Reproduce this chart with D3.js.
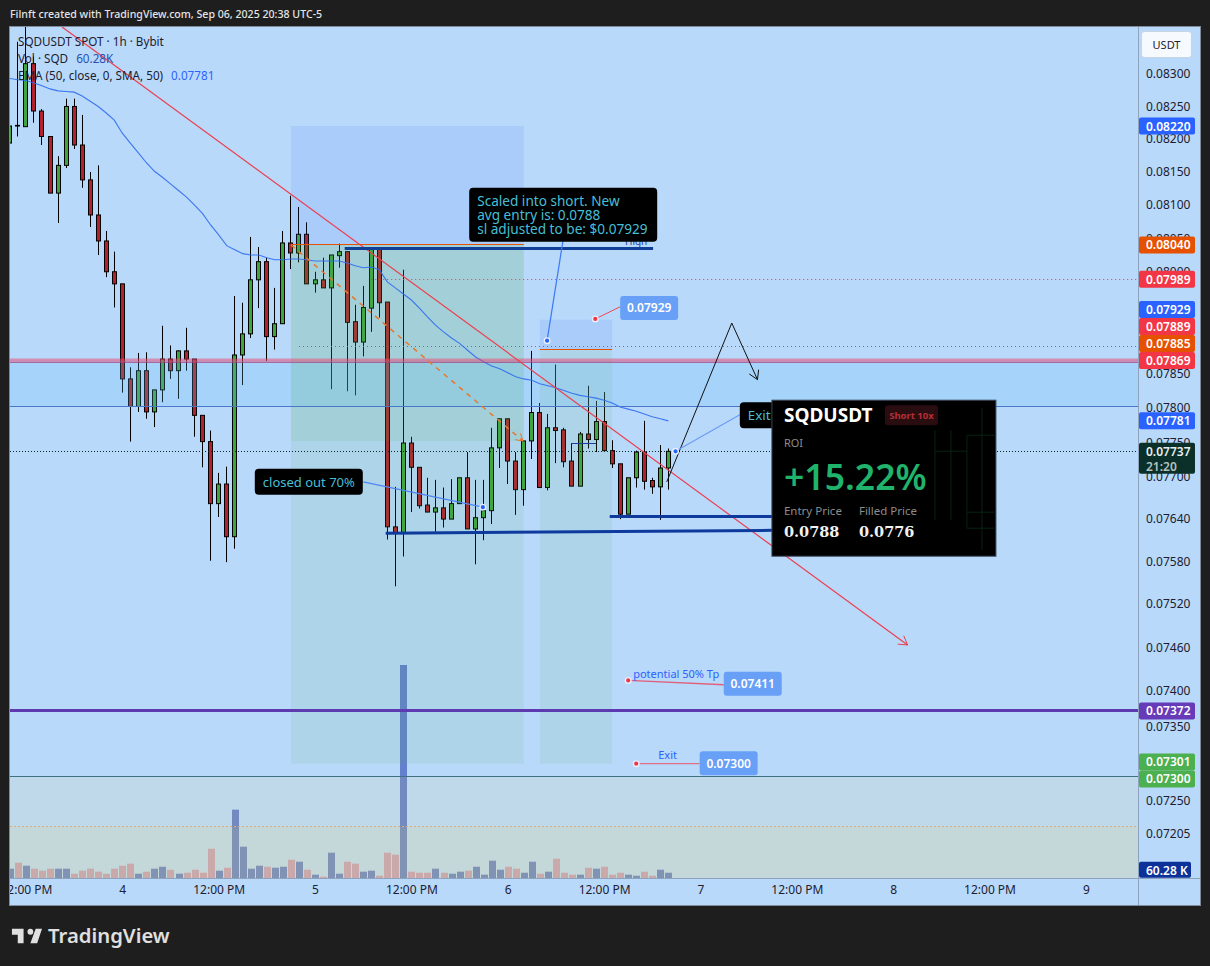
<!DOCTYPE html>
<html>
<head>
<meta charset="utf-8">
<title>SQDUSDT</title>
<script src="https://cdn.jsdelivr.net/npm/d3@7"></script>
<style>
    html, body { margin: 0; padding: 0; background: #1e1e1e; }
    text { font-family: "Noto Sans", sans-serif; }
</style>
</head>
<body>
<div id="chart"></div>
<script>
// Candles: one per hour, hour 0 = Sep 4 00:00
const firstHour = -14
const opens = [0.08194,0.08221,0.08219,0.08316,0.08243,0.08204,0.08118,0.08160,0.08250,0.08191,0.08138,0.08085,0.08046,0.08000,
    0.07982,0.07842,0.07802,0.07854,0.07794,0.07826,0.07871,0.07854,0.07883,0.07871,0.07789,0.07751,0.07662,0.07690,0.07615,0.07877,
    0.07908,0.07988,0.08015,0.07904,0.07923,0.08043,0.08028,0.08056,0.07982,0.07988,0.07976,0.08024,0.08030,0.07926,0.07896,0.07946,
    0.08036,0.07955,0.07629,0.07621,0.07749,0.07714,0.07660,0.07650,0.07656,0.07640,0.07662,0.07699,0.07626,0.07642,0.07652,0.07742,
    0.07784,0.07723,0.07682,0.07752,0.07793,0.07685,0.07771,0.07768,0.07723,0.07687,0.07762,0.07754,0.07780,0.07738,0.07719,0.07647,
    0.07699,0.07736,0.07695,0.07686,0.07713]
const highs = [0.08231,0.08350,0.08373,0.08327,0.08246,0.08204,0.08174,0.08262,0.08262,0.08237,0.08150,0.08160,0.08061,0.08030,
    0.07982,0.07859,0.07880,0.07881,0.07826,0.07920,0.07891,0.07884,0.07917,0.07871,0.07789,0.07767,0.07706,0.07715,0.07964,0.07954,
    0.08052,0.08037,0.08021,0.07976,0.08061,0.08114,0.08097,0.08074,0.08000,0.08021,0.08025,0.08042,0.08030,0.07951,0.07979,0.08036,
    0.08036,0.07955,0.07686,0.08003,0.07758,0.07714,0.07699,0.07696,0.07685,0.07697,0.07699,0.07736,0.07696,0.07696,0.07771,0.07784,
    0.07784,0.07736,0.07752,0.07883,0.07807,0.07791,0.07863,0.07771,0.07749,0.07765,0.07832,0.07810,0.07823,0.07753,0.07719,0.07699,
    0.07738,0.07781,0.07699,0.07746,0.07741]
const lows = [0.08146,0.08204,0.08219,0.08225,0.08191,0.08118,0.08073,0.08156,0.08185,0.08126,0.08067,0.08025,0.07992,0.07947,
    0.07822,0.07751,0.07794,0.07784,0.07772,0.07808,0.07842,0.07813,0.07854,0.07758,0.07714,0.07581,0.07643,0.07579,0.07598,0.07833,
    0.07902,0.07946,0.07868,0.07885,0.07923,0.08004,0.08014,0.07982,0.07969,0.07976,0.07827,0.08006,0.07824,0.07818,0.07875,0.07911,
    0.07932,0.07611,0.07545,0.07587,0.07650,0.07655,0.07650,0.07622,0.07628,0.07640,0.07662,0.07626,0.07576,0.07610,0.07633,0.07713,
    0.07690,0.07646,0.07659,0.07726,0.07685,0.07681,0.07720,0.07714,0.07687,0.07687,0.07741,0.07736,0.07738,0.07713,0.07640,0.07647,
    0.07685,0.07682,0.07676,0.07639,0.07682]
const closes = [0.08220,0.08220,0.08316,0.08243,0.08204,0.08118,0.08160,0.08250,0.08191,0.08138,0.08085,0.08046,0.08000,0.07982,
    0.07842,0.07802,0.07854,0.07794,0.07826,0.07871,0.07854,0.07883,0.07871,0.07789,0.07751,0.07662,0.07690,0.07615,0.07877,0.07908,
    0.07988,0.08015,0.07904,0.07923,0.08043,0.08028,0.08056,0.07982,0.07988,0.07976,0.08025,0.08030,0.07925,0.07896,0.07947,0.08036,
    0.07954,0.07629,0.07621,0.07749,0.07714,0.07659,0.07650,0.07656,0.07640,0.07662,0.07699,0.07626,0.07642,0.07652,0.07742,0.07784,
    0.07723,0.07682,0.07752,0.07793,0.07685,0.07771,0.07767,0.07722,0.07687,0.07762,0.07754,0.07780,0.07738,0.07719,0.07647,0.07699,
    0.07736,0.07694,0.07686,0.07713,0.07737]
// Volume, thousands of SQD
const volumes = [106,174,140,106,83,106,106,106,49,83,106,72,49,106,
    140,163,49,72,106,128,94,49,60,94,60,333,83,117,777,356,
    106,140,128,117,128,208,185,94,38,15,288,49,185,163,72,83,
    26,288,265,2422,72,60,60,106,60,49,72,83,128,38,197,94,
    128,106,60,185,49,72,219,60,38,38,117,106,128,38,60,38,
    26,72,26,94,60]
const ema = [0.08293,0.08291,0.08290,0.08286,0.08282,0.08277,0.08274,0.08273,0.08272,0.08266,0.08258,0.08250,0.08240,0.08229,
    0.08209,0.08194,0.08179,0.08164,0.08151,0.08142,0.08132,0.08122,0.08112,0.08100,0.08087,0.08070,0.08055,0.08039,0.08033,0.08027,
    0.08025,0.08025,0.08021,0.08018,0.08018,0.08019,0.08019,0.08018,0.08016,0.08016,0.08016,0.08016,0.08013,0.08009,0.08006,0.08007,
    0.08003,0.07985,0.07976,0.07967,0.07958,0.07946,0.07933,0.07921,0.07911,0.07902,0.07894,0.07884,0.07874,0.07867,0.07861,0.07857,
    0.07851,0.07845,0.07842,0.07840,0.07835,0.07832,0.07829,0.07825,0.07821,0.07818,0.07816,0.07814,0.07811,0.07807,0.07801,0.07798,
    0.07795,0.07791,0.07787,0.07784,0.07781]

// Axis ticks
const priceTicks = [0.083,0.0825,0.082,0.0815,0.081,0.0805,0.08,0.0795,0.0785,0.078,0.0775,0.077,0.0764,0.0758,0.0752,0.0746,0.074,0.0735,0.0725,0.07205]
const timeTicks = [-12,0,12,24,36,48,60,72,84,96,108,120]
const timeLabels = ['12:00 PM','4','12:00 PM','5','12:00 PM','6','12:00 PM','7','12:00 PM','8','12:00 PM','9']

// Price badges on the right scale
const badgePrices = [0.0822,0.0804,0.07989,0.07929,0.07889,0.07885,0.07869,0.07781,0.07372]
const badgeColors = ['#2962ff','#e65100','#f23645','#2962ff','#f23645','#e65100','#f23645','#2962ff','#673ab7']

const width = 1210, height = 966
const plot = {left: 10, right: 1138, top: 27, bottom: 878, axisRight: 1200, axisBottom: 905}

const x = d3.scaleLinear().domain([0, 120]).range([122.3, 1085.9])
const y = d3.scaleLog().domain([0.083, 0.07205]).range([74, 834])
const yVol = d3.scaleLinear().domain([0, 2422]).range([878, 665])
const hourOf = i => firstHour + i
const isUp = i => closes[i] >= opens[i]

const svg = d3.select('#chart').append('svg')
    .attr('width', width)
    .attr('height', height)
    .style('display', 'block')

const defs = svg.append('defs')
defs.append('clipPath').attr('id', 'plotclip').append('rect')
    .attr('x', plot.left).attr('y', plot.top)
    .attr('width', plot.right - plot.left).attr('height', plot.bottom - plot.top)
defs.append('clipPath').attr('id', 'timeclip').append('rect')
    .attr('x', plot.left).attr('y', plot.bottom)
    .attr('width', plot.right - plot.left).attr('height', plot.axisBottom - plot.bottom)

// Background
svg.append('rect').attr('width', width).attr('height', height).attr('fill', '#1e1e1e')
svg.append('rect')
    .attr('x', plot.left).attr('y', plot.top)
    .attr('width', plot.axisRight - plot.left).attr('height', plot.axisBottom - plot.top)
    .attr('fill', '#b9d9fb')

svg.append('text').attr('x', 10).attr('y', 18)
    .attr('fill', '#e4e4e4').attr('font-size', 10.6).attr('font-weight', 500)
    .text('Filnft created with TradingView.com, Sep 06, 2025 20:38 UTC-5')

const chart = svg.append('g').attr('clip-path', 'url(#plotclip)')

// Horizontal lines sit on whole pixels like in the terminal
function hline(price, h1, h2, color, w, dash){
    let py = Math.floor(y(price)) + 0.5
    chart.append('line')
        .attr('x1', h1 === null ? plot.left : x(h1))
        .attr('x2', h2 === null ? plot.right : x(h2))
        .attr('y1', py).attr('y2', py)
        .attr('stroke', color).attr('stroke-width', w)
        .attr('stroke-dasharray', dash || null)
}
function segment(h1, p1, h2, p2, color, w, dash){
    return chart.append('line')
        .attr('x1', x(h1)).attr('y1', y(p1))
        .attr('x2', x(h2)).attr('y2', y(p2))
        .attr('stroke', color).attr('stroke-width', w)
        .attr('stroke-dasharray', dash || null)
}
function zone(h1, h2, p1, p2, color){
    chart.append('rect')
        .attr('x', h1 === null ? plot.left : x(h1))
        .attr('width', (h2 === null ? plot.right : x(h2)) - (h1 === null ? plot.left : x(h1)))
        .attr('y', y(p1))
        .attr('height', y(p2) - y(p1))
        .attr('fill', color)
}
// Arrow head at the end of a segment
function arrowHead(h1, p1, h2, p2, color, size){
    let a = Math.atan2(y(p2) - y(p1), x(h2) - x(h1))
    let ex = x(h2), ey = y(p2)
    let pts = [a - 2.6, a + 2.6].map(t => [ex + size * Math.cos(t), ey + size * Math.sin(t)])
    chart.append('path')
        .attr('d', d3.line()([pts[0], [ex, ey], pts[1]]))
        .attr('fill', 'none').attr('stroke', color).attr('stroke-width', 1)
}

// Volume
chart.append('g').selectAll('rect')
    .data(volumes)
    .join('rect')
    .attr('x', (d, i) => Math.round(x(hourOf(i))) - 3)
    .attr('width', 7)
    .attr('y', d => yVol(d))
    .attr('height', d => yVol(0) - yVol(d))
    .attr('fill', (d, i) => isUp(i) ? '#6280cd' : '#be9dbf')

// Candles
const candles = chart.append('g')
candles.selectAll('line')
    .data(opens)
    .join('line')
    .attr('x1', (d, i) => Math.floor(x(hourOf(i))) + 0.5)
    .attr('x2', (d, i) => Math.floor(x(hourOf(i))) + 0.5)
    .attr('y1', (d, i) => y(highs[i]))
    .attr('y2', (d, i) => y(lows[i]))
    .attr('stroke', '#000')
candles.selectAll('rect')
    .data(opens)
    .join('rect')
    .attr('x', (d, i) => Math.floor(x(hourOf(i))) - 1.5)
    .attr('width', 4)
    .attr('y', (d, i) => y(Math.max(opens[i], closes[i])))
    .attr('height', (d, i) => Math.abs(y(opens[i]) - y(closes[i])))
    .attr('fill', (d, i) => isUp(i) ? '#3fa63f' : '#b2222e')
    .attr('stroke', '#000')

// Trade boxes
zone(21, 50, 0.0822, 0.0804, 'rgba(41,98,255,0.1)')
zone(21, 50, 0.0804, 0.07752, 'rgba(76,175,80,0.2)')
zone(21, 50, 0.07752, 0.073, 'rgba(76,175,80,0.1)')
zone(52, 61, 0.07929, 0.07885, 'rgba(41,98,255,0.1)')
zone(52, 61, 0.07885, 0.073, 'rgba(76,175,80,0.1)')
hline(0.0804, 21, 50, '#e65100', 1)
hline(0.07885, 52, 61, '#e65100', 1)

// Bands
zone(null, null, 0.07869, 0.07802, 'rgba(100,190,240,0.22)')
zone(null, null, 0.07282, 0.07215, 'rgba(255,220,100,0.11)')
zone(null, null, 0.07215, 0.0714, 'rgba(240,215,95,0.22)')

// EMA
chart.append('path')
    .datum(ema)
    .attr('fill', 'none')
    .attr('stroke', '#2f6bf0')
    .attr('stroke-opacity', 0.9)
    .attr('stroke-width', 1.1)
    .attr('d', d3.line().x((d, i) => x(hourOf(i))).y(d => y(d)))

// Levels
hline(0.07802, null, null, '#4a78c8', 1)
hline(0.07737, null, null, '#0a2a28', 1, '1 2')
hline(0.07989, 31, null, '#f23645', 1, '1 3')
hline(0.07889, 22, null, '#f23645', 1, '1 3')
hline(0.07372, null, null, '#5e3ab0', 3)
hline(0.07282, null, null, '#3f6f80', 1)
hline(0.07215, null, null, '#d8ad80', 1, '2 2')
hline(0.07869, null, null, 'rgba(235,70,110,0.5)', 4)
hline(0.07866, null, null, 'rgba(150,60,130,0.6)', 1)

// Trend lines
segment(-7.5, 0.08373, 97.8, 0.07463, '#ec4050', 1.2)
arrowHead(-7.5, 0.08373, 97.8, 0.07463, '#ec4050', 10)
segment(21, 0.0804, 49.9, 0.07752, '#e8762d', 1.5, '5 5')
arrowHead(21, 0.0804, 49.9, 0.07752, '#e8762d', 8)

// Support and resistance drawn by hand
hline(0.08035, 27.7, 66.1, '#0f3f96', 3)
hline(0.07643, 60.7, 82, '#0d3a9c', 3)
segment(32.8, 0.0762, 80.9, 0.07624, '#0d3a9c', 3)
hline(0.07748, 55.9, 59, '#1a3fa0', 1)
chart.append('text').attr('x', x(62.6)).attr('y', y(0.0804))
    .attr('fill', '#1a3fa0').attr('font-size', 10).text('High')

// Projected path
segment(67.8, 0.07693, 75.9, 0.07924, '#111', 1)
segment(75.9, 0.07924, 79.1, 0.07841, '#111', 1)
arrowHead(75.9, 0.07924, 79.1, 0.07841, '#111', 10)

// Notes
function dot(h, p, color){
    chart.append('circle')
        .attr('cx', x(h)).attr('cy', y(p)).attr('r', 2.8)
        .attr('fill', color).attr('stroke', '#e8f1ff').attr('stroke-width', 1.4)
}
function note(h, p, w, hgt, lines, size){
    let nx = x(h), ny = y(p)
    chart.append('rect')
        .attr('x', nx).attr('y', ny).attr('width', w).attr('height', hgt)
        .attr('rx', 4).attr('fill', '#000')
    lines.forEach((t, i) => {
        chart.append('text')
            .attr('x', nx + 8)
            .attr('y', ny + (lines.length > 1 ? 18 + 14 * i : 18))
            .attr('fill', '#46bfd6').attr('font-size', size)
            .text(t)
    })
}
function priceTag(h, p, t){
    let nx = x(h), ny = y(p)
    chart.append('rect')
        .attr('x', nx).attr('y', ny).attr('width', 58).attr('height', 24)
        .attr('rx', 3).attr('fill', '#68a0f8')
    chart.append('text')
        .attr('x', nx + 29).attr('y', ny + 16.5)
        .attr('text-anchor', 'middle')
        .attr('fill', '#fff').attr('font-size', 12).attr('font-weight', 600)
        .text(t)
}

segment(54.9, 0.08048, 52.9, 0.07898, '#3b78f5', 1.2)
dot(52.9, 0.07898, '#2962ff')
note(43.2, 0.08126, 188, 54, ['Scaled into short. New', 'avg entry is: 0.0788', 'sl adjusted to be: $0.07929'], 13.6)

segment(30, 0.07693, 44.9, 0.07657, '#4d85f5', 1.2)
dot(44.9, 0.07657, '#2962ff')
note(16.5, 0.07712, 108, 26, ['closed out 70%'], 13)

segment(68.9, 0.07737, 76.9, 0.0779, '#6a9cf8', 1.2)
dot(68.9, 0.07737, '#2962ff')
note(76.9, 0.07808, 45, 26, ['Exit'], 13.4)

segment(58.9, 0.0793, 62, 0.07948, '#f0485a', 1)
dot(58.9, 0.0793, '#f23645')
priceTag(62, 0.07964, '0.07929')

segment(63, 0.07414, 74.9, 0.07408, '#e0607a', 1.4)
dot(63, 0.07414, '#f23645')
priceTag(74.9, 0.07426, '0.07411')
chart.append('text').attr('x', x(63) + 5).attr('y', y(0.07414) - 2)
    .attr('fill', '#2962ff').attr('font-size', 11).text('potential 50% Tp')

segment(64, 0.073, 71.9, 0.073, '#e0708a', 1.4)
dot(64, 0.073, '#f23645')
priceTag(71.9, 0.07317, '0.07300')
chart.append('text').attr('x', x(64) + 22).attr('y', y(0.073) - 5)
    .attr('fill', '#2962ff').attr('font-size', 11).text('Exit')

// ROI card pasted over the chart
const card = chart.append('g').attr('transform', `translate(${x(80.9)},${y(0.07811)})`)
card.append('rect').attr('width', 224).attr('height', 156).attr('fill', '#000').attr('stroke', '#3c4656')
const faint = [[163, 51, 195, 51], [195, 35, 224, 35], [195, 35, 195, 128], [195, 112, 224, 112], [195, 128, 224, 128], [210, 8, 210, 150], [179, 30, 179, 120], [163, 30, 163, 120]]
card.selectAll('line.faint')
    .data(faint)
    .join('line')
    .attr('x1', d => d[0]).attr('y1', d => d[1])
    .attr('x2', d => d[2]).attr('y2', d => d[3])
    .attr('stroke', '#0b2c15')
    .attr('stroke-opacity', 0.8)
card.append('text').attr('x', 12).attr('y', 22)
    .attr('fill', '#fff').attr('font-size', 19).attr('font-weight', 700).text('SQDUSDT')
card.append('rect').attr('x', 113).attr('y', 5).attr('width', 53).attr('height', 20).attr('rx', 3).attr('fill', '#2a0d10')
card.append('text').attr('x', 139.5).attr('y', 19)
    .attr('text-anchor', 'middle')
    .attr('fill', '#b53036').attr('font-size', 9.5).attr('font-weight', 700).text('Short 10x')
card.append('text').attr('x', 12).attr('y', 47)
    .attr('fill', '#8c8c8c').attr('font-size', 11).text('ROI')
card.append('text').attr('x', 12).attr('y', 90)
    .attr('fill', '#1fb36b').attr('font-size', 35.6).attr('font-weight', 600).text('+15.22%')
card.append('text').attr('x', 12).attr('y', 115)
    .attr('fill', '#8c8c8c').attr('font-size', 11.5).text('Entry Price')
card.append('text').attr('x', 87).attr('y', 115)
    .attr('fill', '#8c8c8c').attr('font-size', 11.5).text('Filled Price')
card.append('text').attr('x', 12).attr('y', 137)
    .attr('fill', '#f2f2f2').attr('font-size', 14.5).attr('font-weight', 700)
    .style('font-family', '"DejaVu Serif", serif').text('0.0788')
card.append('text').attr('x', 87).attr('y', 137)
    .attr('fill', '#f2f2f2').attr('font-size', 14.5).attr('font-weight', 700)
    .style('font-family', '"DejaVu Serif", serif').text('0.0776')

// Legend
const legendRows = [
    [['SQDUSDT SPOT · 1h · Bybit', '#1c2030', 0]],
    [['Vol · SQD', '#1c2030', 0], ['60.28K', '#2a4fb0', 8]],
    [['EMA (50, close, 0, SMA, 50)', '#1c2030', 0], ['0.07781', '#2962ff', 8]]
]
legendRows.forEach((row, i) => {
    let t = svg.append('text').attr('x', 18).attr('y', 46 + 17 * i).attr('font-size', 11.7)
    row.forEach(r => t.append('tspan').attr('fill', r[1]).attr('dx', r[2]).text(r[0]))
})

// Axes
svg.append('line').attr('x1', plot.right + 0.5).attr('x2', plot.right + 0.5)
    .attr('y1', plot.top).attr('y2', plot.axisBottom).attr('stroke', '#8ea4be')
svg.append('line').attr('x1', plot.left).attr('x2', plot.axisRight)
    .attr('y1', plot.bottom + 0.5).attr('y2', plot.bottom + 0.5).attr('stroke', '#8ea4be')

const yAxis = svg.append('g')
    .attr('transform', `translate(${plot.right + 8},0)`)
    .call(d3.axisRight(y).tickValues(priceTicks).tickFormat(d3.format('.5f')).tickSize(0).tickPadding(0))
yAxis.select('.domain').remove()
yAxis.selectAll('text').attr('fill', '#1c2030').attr('font-size', 12).style('font-family', '"Noto Sans", sans-serif')

const xAxis = svg.append('g')
    .attr('clip-path', 'url(#timeclip)')
    .append('g')
    .attr('transform', `translate(0,${plot.bottom})`)
    .call(d3.axisBottom(x).tickValues(timeTicks).tickFormat((d, i) => timeLabels[i]).tickSize(0).tickPadding(7))
xAxis.select('.domain').remove()
xAxis.selectAll('text').attr('fill', '#1c2030').attr('font-size', 12).style('font-family', '"Noto Sans", sans-serif')

// Frame
svg.append('rect')
    .attr('x', plot.left - 0.5).attr('y', plot.top - 0.5)
    .attr('width', plot.axisRight - plot.left + 1).attr('height', plot.axisBottom - plot.top + 1)
    .attr('fill', 'none').attr('stroke', '#7f8b99')

// Badges, pushed up when they would overlap
let badgeY = badgePrices.map(p => y(p))
for(let i = badgeY.length - 2; i >= 0; i--){
    if(badgeY[i + 1] - badgeY[i] < 17 && badgeY[i + 1] < 600) badgeY[i] = badgeY[i + 1] - 17
}
function badge(cy, hgt, color, w, lines){
    svg.append('rect').attr('x', plot.right + 1).attr('y', cy - hgt / 2)
        .attr('width', w).attr('height', hgt).attr('rx', 2).attr('fill', color)
    lines.forEach((l, i) => {
        svg.append('text').attr('x', plot.right + 8).attr('y', cy - hgt / 2 + 13 + 15 * i)
            .attr('fill', l[1]).attr('font-size', 12).attr('font-weight', 600).text(l[0])
    })
}
badgePrices.forEach((p, i) => badge(badgeY[i], 17, badgeColors[i], 56, [[p.toFixed(5), '#fff']]))
badge(y(0.07737) + 7, 31, '#0a3029', 56, [['0.07737', '#e8eeee'], ['21:20', '#b4c2c0']])
badge(y(0.07301) - 1, 17, '#4caf50', 56, [['0.07301', '#fff']])
badge(y(0.07301) + 16, 17, '#4caf50', 56, [['0.07300', '#fff']])
badge(yVol(60.28) - 3, 16, '#0c3299', 52, [['60.28 K', '#fff']])

// USDT box
svg.append('rect').attr('x', 1141.5).attr('y', 31.5).attr('width', 50).attr('height', 26)
    .attr('rx', 3).attr('fill', '#f6faff').attr('stroke', '#c8d4e2')
svg.append('text').attr('x', 1166.5).attr('y', 48.5).attr('text-anchor', 'middle')
    .attr('fill', '#1c2030').attr('font-size', 11).text('USDT')

// Logo
svg.append('path')
    .attr('transform', 'translate(10,923) scale(0.97)')
    .attr('d', 'M14 6H2v6h6v9h6V6Zm14 15h-7l5.5-15H33l-5 15Zm-7-9a3 3 0 1 0 0-6 3 3 0 0 0 0 6Z')
    .attr('fill', '#e0e0e0')
svg.append('text').attr('x', 48).attr('y', 943)
    .attr('fill', '#e0e0e0').attr('font-size', 20.3).attr('font-weight', 600).text('TradingView')
</script>
</body>
</html>
